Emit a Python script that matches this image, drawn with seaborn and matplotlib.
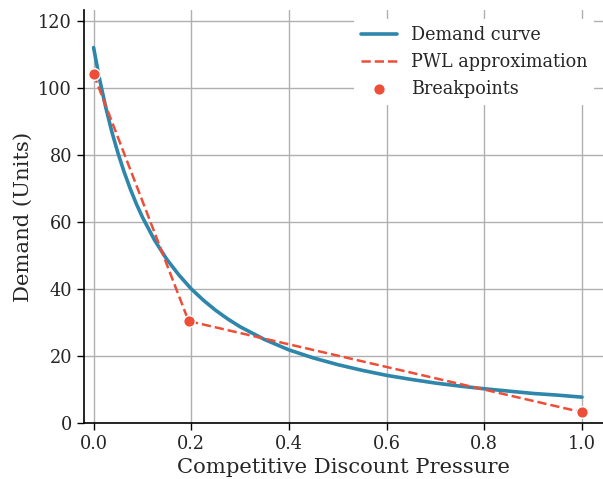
import matplotlib
matplotlib.use("Agg")
import matplotlib.pyplot as plt
import seaborn as sns
import pandas as pd

# demand curve
pressure = [0.0, 0.0125, 0.025, 0.0375, 0.05, 0.0625, 0.075, 0.0875, 0.1,
            0.125, 0.15, 0.175, 0.2, 0.225, 0.25, 0.275, 0.3, 0.35, 0.4,
            0.45, 0.5, 0.55, 0.6, 0.65, 0.7, 0.75, 0.8, 0.85, 0.9, 0.95, 1.0]
demand = [112.0, 102.4, 94.1, 86.8, 80.5, 74.9, 69.9, 65.4, 61.4,
          54.5, 48.8, 44.1, 40.0, 36.6, 33.6, 31.0, 28.7, 24.9, 21.8,
          19.4, 17.4, 15.7, 14.2, 13.0, 11.9, 11.0, 10.2, 9.5, 8.8, 8.3, 7.7]

# piecewise linear breakpoints
bp_x = [0.0, 0.1945, 1.0]
bp_y = [104.1, 30.4, 3.2]

blue = "#2E86AB"
red = "#EE4E37"

sns.set_theme(style="whitegrid")
plt.rcParams['font.family'] = ['DejaVu Serif']
plt.rcParams['axes.edgecolor'] = 'black'

curve = pd.DataFrame({"x": pressure, "y": demand})
bps = pd.DataFrame({"x": bp_x, "y": bp_y})

fig, ax = plt.subplots(figsize=(6.03, 4.79), dpi=100)
fig.subplots_adjust(left=0.139, right=1.0, top=0.979, bottom=0.117)

sns.lineplot(data=curve, x="x", y="y", ax=ax, color=blue, linewidth=2.6,
             label="Demand curve")
sns.lineplot(data=bps, x="x", y="y", ax=ax, color=red, linewidth=1.8,
             linestyle="--", label="PWL approximation")
sns.scatterplot(data=bps, x="x", y="y", ax=ax, color=red, s=70,
                edgecolor="white", linewidth=1, zorder=5, label="Breakpoints")

ax.set_xlim(-0.02, 1.043)
ax.set_ylim(0, 123.2)
ax.set_xlabel("Competitive Discount Pressure", fontsize=15.2)
ax.set_ylabel("Demand (Units)", fontsize=15.2)
ax.tick_params(axis="both", labelsize=12.8, length=5, width=1, color="black",
               left=True, bottom=True)
ax.grid(True, color="#b0b0b0", linewidth=1)
sns.despine(ax=ax)
for s in ["left", "bottom"]:
    ax.spines[s].set_linewidth(1.2)

ax.legend(loc="upper right", fontsize=12.7, frameon=True, framealpha=1,
          edgecolor="none", facecolor="white", borderaxespad=0.5)

plt.savefig("out.png", dpi=100)
plt.close()
